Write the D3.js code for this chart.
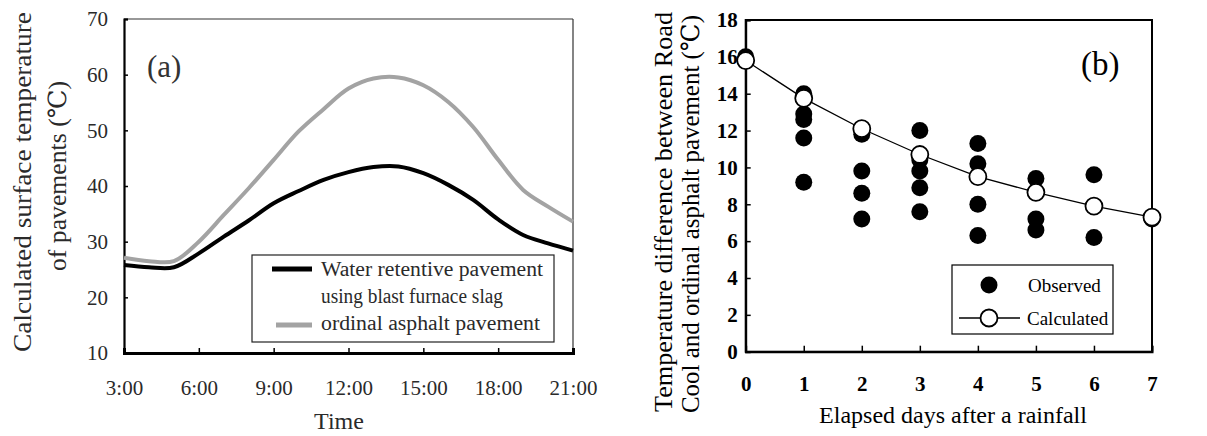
<!DOCTYPE html>
<html><head><meta charset="utf-8">
<script src="https://cdn.jsdelivr.net/npm/d3@7"></script>
<style>
html,body{margin:0;padding:0;background:#fff;}
svg{display:block;}
text{font-family:"Liberation Serif","Times New Roman","DejaVu Serif",serif;}
</style></head>
<body>
<svg id="chart" width="1207" height="436"></svg>
<script>
// ---------- Panel (a) data ----------
const hours = [3,4,5,6,7,8,9,10,11,12,13,14,15,16,17,18,19,20,21];
const waterRetentive = [25.8,25.4,25.4,27.9,30.9,33.8,36.9,39.1,41.1,42.5,43.4,43.5,42.3,40.2,37.5,34.0,31.2,29.7,28.4];
const ordinalAsphalt = [27.1,26.5,26.5,30.0,34.8,39.6,44.7,49.8,53.8,57.5,59.3,59.5,58.1,55.1,50.6,44.7,39.3,36.3,33.6];
const aXTicks = [3,6,9,12,15,18,21];
const aXTickLabels = ["3:00","6:00","9:00","12:00","15:00","18:00","21:00"];
const aYTicks = [10,20,30,40,50,60,70];
const aLegendLabels = [["Water retentive pavement","using blast furnace slag"],["ordinal asphalt pavement"]];

// ---------- Panel (b) data ----------
const obsDay   = [0, 1,1,1,1,1, 2,2,2,2, 3,3,3,3,3, 4,4,4,4, 5,5,5, 6,6, 7];
const obsValue = [16.0, 14.0,12.9,12.6,11.6,9.2, 11.8,9.8,8.6,7.2, 12.0,10.4,9.8,8.9,7.6, 11.3,10.2,8.0,6.3, 9.4,7.2,6.6, 9.6,6.2, 7.2];
const calcDay   = [0,1,2,3,4,5,6,7];
const calcValue = [15.8,13.75,12.1,10.7,9.5,8.65,7.9,7.3];
const bXTicks = [0,1,2,3,4,5,6,7];
const bYTicks = [0,2,4,6,8,10,12,14,16,18];
const bLegendLabels = ["Observed","Calculated"];

const svg = d3.select("#chart");
const SERIF = '"Liberation Serif","Times New Roman","DejaVu Serif",serif';

// ================= Panel (a) =================
{
  const L=124, R=573, T=19, B=353;
  const x = d3.scaleLinear().domain([3,21]).range([L,R]);
  const y = d3.scaleLinear().domain([10,70]).range([B,T]);
  const g = svg.append("g");
  const tc = "#2a2a2a";

  g.append("line").attr("x1",L).attr("x2",R).attr("y1",T).attr("y2",T).attr("stroke","#333").attr("stroke-width",1.2);
  g.append("line").attr("x1",R).attr("x2",R).attr("y1",T).attr("y2",B).attr("stroke","#333").attr("stroke-width",1.2);

  const yAxis = d3.axisLeft(y).tickValues(aYTicks).tickSize(-4).tickPadding(16).tickFormat(d3.format("d"));
  const ya = g.append("g").attr("transform",`translate(${L},0)`).call(yAxis);
  ya.attr("font-family",SERIF);
  ya.select(".domain").attr("stroke","#000").attr("stroke-width",2.2);
  ya.selectAll(".tick line").attr("stroke","#000").attr("stroke-width",1.5);
  ya.selectAll("text").attr("font-size",21).attr("fill",tc).style("font-family",SERIF);

  const xAxis = d3.axisBottom(x).tickValues(aXTicks).tickSize(-5).tickPadding(27).tickFormat((d,i)=>aXTickLabels[i]);
  const xa = g.append("g").attr("transform",`translate(0,${B})`).call(xAxis);
  xa.attr("font-family",SERIF);
  xa.select(".domain").attr("stroke","#000").attr("stroke-width",3);
  xa.selectAll(".tick line").attr("stroke","#000").attr("stroke-width",1.5);
  xa.selectAll("text").attr("font-size",21).attr("fill",tc).style("font-family",SERIF);

  const line = d3.line().x((d,i)=>x(hours[i])).y(d=>y(d)).curve(d3.curveCatmullRom.alpha(0.5));
  g.append("path").datum(ordinalAsphalt).attr("d",line).attr("fill","none").attr("stroke","#a3a3a3").attr("stroke-width",4);
  g.append("path").datum(waterRetentive).attr("d",line).attr("fill","none").attr("stroke","#000").attr("stroke-width",4);

  g.append("text").attr("x",147).attr("y",77).attr("font-size",31).attr("fill","#333").text("(a)");

  const lg = g.append("g");
  lg.append("rect").attr("x",252).attr("y",255).attr("width",302).attr("height",87).attr("fill","#fff").attr("stroke","#222").attr("stroke-width",1.2);
  lg.append("line").attr("x1",272).attr("x2",312).attr("y1",269).attr("y2",269).attr("stroke","#000").attr("stroke-width",5);
  lg.append("line").attr("x1",276).attr("x2",312).attr("y1",325).attr("y2",325).attr("stroke","#a3a3a3").attr("stroke-width",5);
  lg.append("text").attr("x",321).attr("y",276).attr("font-size",20).attr("fill",tc).attr("textLength",222).attr("lengthAdjust","spacingAndGlyphs").text(aLegendLabels[0][0]);
  lg.append("text").attr("x",321).attr("y",303).attr("font-size",20).attr("fill",tc).attr("textLength",182).attr("lengthAdjust","spacingAndGlyphs").text(aLegendLabels[0][1]);
  lg.append("text").attr("x",321).attr("y",330).attr("font-size",20).attr("fill",tc).attr("textLength",219).attr("lengthAdjust","spacingAndGlyphs").text(aLegendLabels[1][0]);

  g.append("text").attr("transform","translate(31,182) rotate(-90)").attr("text-anchor","middle")
    .attr("font-size",25).attr("fill",tc).attr("textLength",340).attr("lengthAdjust","spacingAndGlyphs").text("Calculated surface temperature");
  g.append("text").attr("transform","translate(66,176) rotate(-90)").attr("text-anchor","middle")
    .attr("font-size",25).attr("fill",tc).attr("textLength",190).attr("lengthAdjust","spacingAndGlyphs").text("of pavements (℃)");
  g.append("text").attr("x",339).attr("y",429).attr("text-anchor","middle").attr("font-size",24).attr("fill",tc).text("Time");
}

// ================= Panel (b) =================
{
  const L=745.7, R=1152, T=20, B=351.7;
  const x = d3.scaleLinear().domain([0,7]).range([L,R]);
  const y = d3.scaleLinear().domain([0,18]).range([B,T]);
  const g = svg.append("g");

  g.append("rect").attr("x",L).attr("y",T).attr("width",R-L).attr("height",B-T).attr("fill","none").attr("stroke","#000").attr("stroke-width",2);

  const yAxis = d3.axisLeft(y).tickValues(bYTicks).tickSize(-5).tickPadding(8).tickFormat(d3.format("d"));
  const ya = g.append("g").attr("transform",`translate(${L},0)`).call(yAxis);
  ya.attr("font-family",SERIF);
  ya.select(".domain").attr("stroke","#000").attr("stroke-width",2);
  ya.selectAll(".tick line").attr("stroke","#000").attr("stroke-width",1.5);
  ya.selectAll("text").attr("font-size",21).attr("font-weight","bold").attr("fill","#000").style("font-family",SERIF);

  const xAxis = d3.axisBottom(x).tickValues(bXTicks).tickSize(-6).tickPadding(24).tickFormat(d3.format("d"));
  const xa = g.append("g").attr("transform",`translate(0,${B})`).call(xAxis);
  xa.attr("font-family",SERIF);
  xa.select(".domain").attr("stroke","#000").attr("stroke-width",2);
  xa.selectAll(".tick line").attr("stroke","#000").attr("stroke-width",1.5);
  xa.selectAll("text").attr("font-size",21).attr("font-weight","bold").attr("fill","#000").style("font-family",SERIF);

  g.selectAll("circle.obs").data(obsValue).enter().append("circle").attr("class","obs")
    .attr("cx",(d,i)=>x(obsDay[i])).attr("cy",d=>y(d)).attr("r",8.5).attr("fill","#000");
  const line = d3.line().x((d,i)=>x(calcDay[i])).y(d=>y(d));
  g.append("path").datum(calcValue).attr("d",line).attr("fill","none").attr("stroke","#000").attr("stroke-width",1.3);
  g.selectAll("circle.calc").data(calcValue).enter().append("circle").attr("class","calc")
    .attr("cx",(d,i)=>x(calcDay[i])).attr("cy",d=>y(d)).attr("r",8.5).attr("fill","#fff").attr("stroke","#000").attr("stroke-width",1.8);

  g.append("text").attr("x",1081).attr("y",75).attr("font-size",33).attr("fill","#000").text("(b)");

  const lg = g.append("g");
  lg.append("rect").attr("x",952).attr("y",265).attr("width",161).attr("height",69).attr("fill","#fff").attr("stroke","#000").attr("stroke-width",1.2);
  lg.append("circle").attr("cx",989).attr("cy",285).attr("r",8.5).attr("fill","#000");
  lg.append("line").attr("x1",959).attr("x2",1020).attr("y1",318).attr("y2",318).attr("stroke","#000").attr("stroke-width",1.3);
  lg.append("circle").attr("cx",989).attr("cy",318).attr("r",8.5).attr("fill","#fff").attr("stroke","#000").attr("stroke-width",1.8);
  lg.append("text").attr("x",1028).attr("y",292).attr("font-size",19).attr("fill","#000").text(bLegendLabels[0]);
  lg.append("text").attr("x",1027).attr("y",325).attr("font-size",19).attr("fill","#000").text(bLegendLabels[1]);

  g.append("text").attr("transform","translate(672,212) rotate(-90)").attr("text-anchor","middle")
    .attr("font-size",25).attr("fill","#000").attr("textLength",400).attr("lengthAdjust","spacingAndGlyphs").text("Temperature difference between Road");
  g.append("text").attr("transform","translate(699,214) rotate(-90)").attr("text-anchor","middle")
    .attr("font-size",25).attr("fill","#000").attr("textLength",398).attr("lengthAdjust","spacingAndGlyphs").text("Cool and ordinal asphalt pavement (℃)");
  g.append("text").attr("x",953).attr("y",423).attr("text-anchor","middle").attr("font-size",24).attr("fill","#000").text("Elapsed days after a rainfall");
}
</script>
</body></html>
